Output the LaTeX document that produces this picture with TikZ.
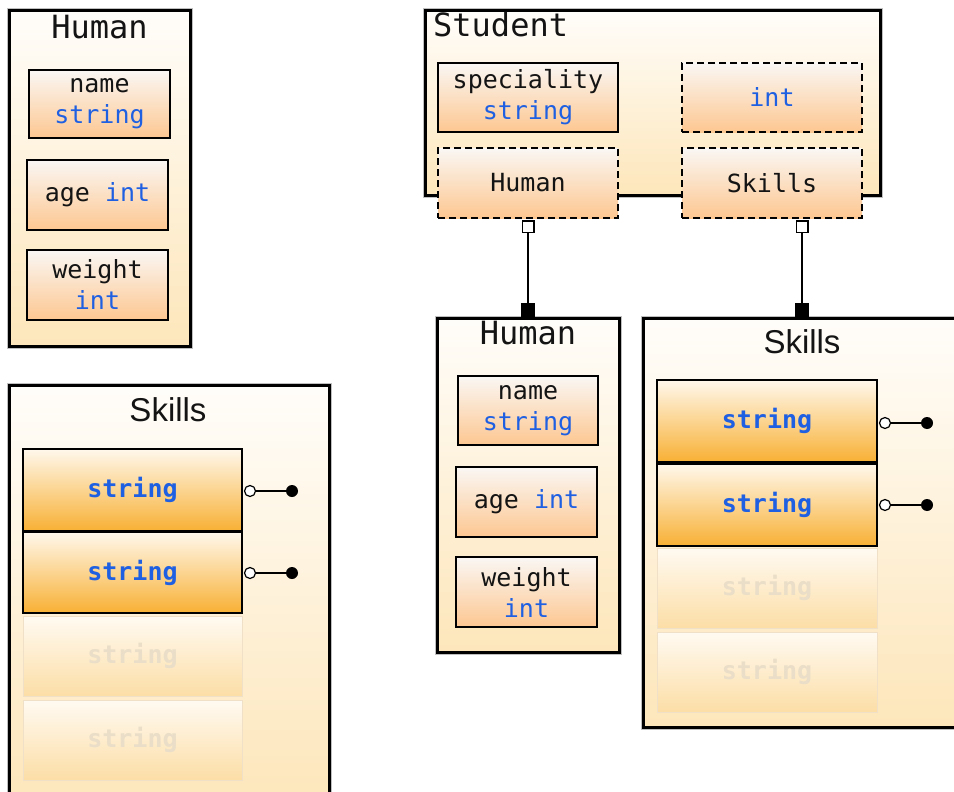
\documentclass[tikz,border=0pt]{standalone}
\usepackage{fontspec}
\setmonofont{DejaVu Sans Mono}
\setsansfont{Liberation Sans}
\usetikzlibrary{arrows.meta,calc}
\definecolor{tblue}{RGB}{31,96,226}
\definecolor{txt}{RGB}{20,20,20}
\definecolor{outT}{RGB}{255,253,250}
\definecolor{outB}{RGB}{253,230,186}
\definecolor{peachT}{RGB}{250,247,244}
\definecolor{peachB}{RGB}{253,199,145}
\definecolor{orT}{RGB}{255,248,236}
\definecolor{orM}{RGB}{252,212,130}
\definecolor{orB}{RGB}{248,176,52}
\definecolor{faT}{RGB}{255,250,242}
\definecolor{faM}{RGB}{253,233,198}
\definecolor{faB}{RGB}{252,222,166}
\definecolor{faD}{RGB}{240,224,200}
\definecolor{faTxt}{RGB}{234,222,200}
\begin{document}
\begin{tikzpicture}[x=1pt,y=-1pt,
  outerbox/.style={draw=black, line width=3pt, top color=outT, bottom color=outB,
    inner sep=0pt, preaction={draw=black!25, line width=5pt}},
  attrbox/.style={draw=black, line width=1.5pt, top color=peachT, bottom color=peachB,
    font=\ttfamily\fontsize{25}{31}\selectfont, align=center, inner sep=0pt, text=txt},
  dashbox/.style={attrbox, dash pattern=on 7pt off 4pt},
  orangebox/.style={draw=black, line width=1.5pt, top color=orT, middle color=orM, bottom color=orB,
    font=\ttfamily\bfseries\fontsize{25}{31}\selectfont, inner sep=0pt, text=tblue},
  fadedbox/.style={draw=faD, line width=1pt, top color=faT, middle color=faM, bottom color=faB,
    font=\ttfamily\bfseries\fontsize{25}{31}\selectfont, inner sep=0pt, text=faTxt},
  mtitle/.style={font=\ttfamily\fontsize{32}{36}\selectfont, inner sep=0pt, text=txt},
  stitle/.style={font=\sffamily\fontsize{33}{36}\selectfont, inner sep=0pt, text=txt},
  opendot/.style={circle, draw=black, fill=white, line width=1.2pt, minimum size=11pt, inner sep=0pt},
  filldot/.style={circle, fill=black, minimum size=12pt, inner sep=0pt},
  conn/.style={draw=black, line width=1.5pt},
  link/.style={conn, {Square[open, fill=white, length=13pt, width=13pt, line width=1.3pt]}-{Square[length=14pt, width=14pt]}, shorten <=1.5pt}
]
\useasboundingbox (0,0) rectangle (954,792);
\clip (0,0) rectangle (954,792);

% ---------- left Human ----------
\node[outerbox, minimum width=181pt, minimum height=335pt] (hL) at (99.5,178.5) {};
\node[mtitle] (hLt) at (99.5,27) {Human};
\node[attrbox, minimum width=141pt, minimum height=68pt] (hLn) at (99.5,104) {name\\\textcolor{tblue}{string}};
\node[attrbox, minimum width=141pt, minimum height=70pt] (hLa) at (97.5,195) {age \textcolor{tblue}{int}};
\node[attrbox, minimum width=141pt, minimum height=70pt] (hLw) at (97.5,285) {weight\\\textcolor{tblue}{int}};

% ---------- left Skills ----------
\node[outerbox, minimum width=320pt, minimum height=420pt] (sL) at (169,595) {};
\node[stitle] (sLt) at (168,410) {Skills};
\node[orangebox, minimum width=219pt, minimum height=82pt] (sL1) at (132.5,490) {string};
\node[orangebox, minimum width=219pt, minimum height=81pt] (sL2) at (132.5,572.5) {string};
\node[fadedbox, minimum width=219pt, minimum height=80pt] (sL3) at (132.5,656) {string};
\node[fadedbox, minimum width=219pt, minimum height=80pt] (sL4) at (132.5,740) {string};
\node[opendot] (cL1) at (250,491) {};
\node[filldot] (dL1) at (292,491) {};
\node[opendot] (cL2) at (250,573) {};
\node[filldot] (dL2) at (292,573) {};
\draw[conn] (cL1) -- (dL1);
\draw[conn] (cL2) -- (dL2);

% ---------- Student ----------
\node[outerbox, minimum width=455pt, minimum height=184pt] (st) at (652.5,103) {};
\node[mtitle, anchor=west] (stt) at (433,25) {Student};
\node[attrbox, minimum width=180pt, minimum height=69pt] (sp) at (528,97.5) {speciality\\\textcolor{tblue}{string}};
\node[dashbox, minimum width=180pt, minimum height=69pt] (si) at (772,97.5) {\textcolor{tblue}{int}};
\node[dashbox, minimum width=180pt, minimum height=70pt] (sh) at (528,183) {Human};
\node[dashbox, minimum width=180pt, minimum height=70pt] (sk) at (772,183) {Skills};

% ---------- right Human ----------
\node[outerbox, minimum width=182pt, minimum height=334pt] (hR) at (528,485) {};
\node[mtitle] (hRt) at (528,333) {Human};
\node[attrbox, minimum width=140pt, minimum height=69pt] (hRn) at (528,410.5) {name\\\textcolor{tblue}{string}};
\node[attrbox, minimum width=141pt, minimum height=70pt] (hRa) at (526.5,502) {age \textcolor{tblue}{int}};
\node[attrbox, minimum width=141pt, minimum height=70pt] (hRw) at (526.5,592) {weight\\\textcolor{tblue}{int}};

% ---------- right Skills ----------
\node[outerbox, minimum width=330pt, minimum height=409pt] (sR) at (808,522.5) {};
\node[stitle] (sRt) at (802,342) {Skills};
\node[orangebox, minimum width=220pt, minimum height=82pt] (sR1) at (767,421) {string};
\node[orangebox, minimum width=220pt, minimum height=82pt] (sR2) at (767,505) {string};
\node[fadedbox, minimum width=220pt, minimum height=80pt] (sR3) at (767,588) {string};
\node[fadedbox, minimum width=220pt, minimum height=80pt] (sR4) at (767,672) {string};
\node[opendot] (cR1) at (885,423) {};
\node[filldot] (dR1) at (927,423) {};
\node[opendot] (cR2) at (885,505) {};
\node[filldot] (dR2) at (927,505) {};
\draw[conn] (cR1) -- (dR1);
\draw[conn] (cR2) -- (dR2);

% ---------- links ----------
\draw[link] (sh.south) -- (hR.north);
\draw[link] (sk.south -| sRt) -- (sRt |- sR.north);
\end{tikzpicture}
\end{document}
